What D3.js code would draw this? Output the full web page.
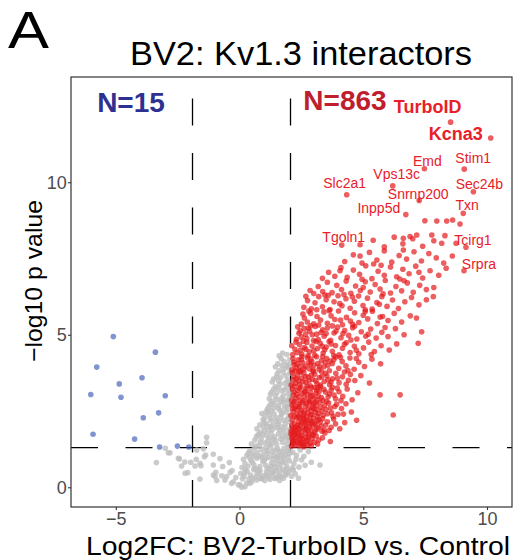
<!DOCTYPE html>
<html>
<head>
<meta charset="utf-8">
<script src="https://cdn.jsdelivr.net/npm/d3@7.9.0/dist/d3.min.js"></script>
<style>
  body { margin: 0; background: #fff; }
  svg { display: block; font-family: "Liberation Sans", Arial, sans-serif; }
</style>
</head>
<body>
<svg id="plot" width="515" height="560"></svg>
<script>
// axis ticks and cut-offs
const xTicks = [-5, 0, 5, 10];
const yTicks = [0, 5, 10];
const fcCut = [-1.9, 2.06];
const pCut = 1.3;
const nDown = 15;
const nUp = 863;

// [log2FC, -log10 p]
const downGenes = [
  [-5.10,4.94],[-5.77,3.94],[-3.40,4.43],[-3.94,3.59],[-4.86,3.39],[-6.01,3.04],[-4.79,2.95],
  [-3.00,3.00],[-3.27,2.44],[-3.89,2.28],[-5.92,1.74],[-4.24,1.58],[-3.23,1.32],[-2.51,1.35],[-2.05,1.32]
];

const nsGenes = [
  // left tail
  [-3.00,1.28],[-2.88,1.13],[-3.36,0.81],[-2.43,0.93],[-2.21,0.83],[-2.34,0.70],[-1.97,0.82],[-1.75,0.92],
  [-1.73,1.22],[-1.33,1.64],[-1.33,1.46],[-1.46,1.26],[-1.37,1.06],[-1.60,0.79],[-1.80,0.70],[-2.09,0.48],
  [-2.20,0.46],[-1.60,0.27],[-1.06,1.08],[-0.79,0.94],[-1.06,0.73],[-0.68,0.68],[-0.41,0.81],[-0.96,0.49],
  [-0.99,0.35],[-0.92,0.22],[-0.72,0.38],[-0.52,0.35],[-0.38,0.49],[-0.25,0.18],[0.02,0.08],[0.22,0.02],
  [0.42,0.13],[0.69,0.24],[0.83,0.30],[-2.81,1.13],[-2.47,0.95],[-1.42,1.00],[-1.56,0.71],[-1.06,0.40],
  [-0.59,0.24],[-0.32,0.13],[-0.05,0.08],[0.09,0.00],[0.29,0.13],[0.49,0.18],[0.90,0.30],[1.10,0.40],
  [1.23,0.26],[1.50,0.31],[1.70,0.35],[1.91,0.46],[1.37,0.51],
  // right arm
  [-0.15,0.32],[0.05,0.45],[0.18,0.36],[0.31,0.52],[0.44,0.40],[0.57,0.58],[0.70,0.44],[0.83,0.55],
  [0.96,0.38],[1.09,0.50],[1.22,0.60],[1.35,0.42],[1.48,0.55],[1.61,0.47],[1.74,0.59],[1.87,0.40],
  [2.00,0.52],[2.17,0.57],[2.38,0.30],[2.25,0.44],[0.12,0.28],[0.38,0.26],[0.64,0.33],[0.90,0.28],
  [1.16,0.34],[1.42,0.29],[1.62,0.22],[1.77,0.30],[-0.30,0.55],[0.24,0.60],
  [0.20,0.48],[0.50,0.30],[0.80,0.46],[1.02,0.22],[1.28,0.48],[1.58,0.38],[1.82,0.52],[2.10,0.36],
  [0.10,0.65],[0.22,0.78],[0.34,0.70],[0.46,0.88],[0.58,0.74],[0.70,0.95],[0.82,0.68],[0.94,0.84],
  [1.06,0.72],[1.18,0.98],[1.30,0.80],[1.42,0.66],[1.54,0.90],[1.66,0.76],[1.78,0.96],[1.90,0.70],
  [2.02,0.86],[2.14,0.64],[2.28,0.92],[2.51,0.90],[2.65,0.72],[2.90,0.82],[3.25,0.73],[0.40,0.98],
  [0.64,0.62],[0.88,0.99],[1.12,0.62],[1.36,0.93],[1.60,0.64],[1.84,0.83],[2.40,0.66],[0.16,0.92],
  [1.00,0.88],[1.48,0.78],[1.96,0.99],
  [0.52,0.82],[0.76,0.58],[1.04,0.95],[1.28,0.70],[1.52,0.98],[1.72,0.84],[1.94,0.60],[2.20,0.78],
  [0.30,1.05],[0.42,1.20],[0.54,1.10],[0.66,1.35],[0.78,1.02],[0.90,1.25],[1.02,1.45],[1.14,1.12],
  [1.26,1.32],[1.38,1.04],[1.50,1.40],[1.62,1.18],[1.74,1.48],[1.86,1.08],[1.98,1.30],[2.15,1.15],
  [2.30,1.05],[2.45,1.22],[2.78,1.17],[2.60,1.02],[0.48,1.42],[0.72,1.15],[0.96,1.08],[1.20,1.40],
  [1.44,1.22],[1.68,1.02],[1.92,1.42],[0.60,1.28],[0.84,1.48],[1.08,1.30],[1.32,1.16],[1.56,1.06],
  [1.80,1.28],[2.03,1.12],
  [0.36,1.12],[0.58,1.02],[0.80,1.38],[1.10,1.20],[1.30,1.44],[1.54,1.26],[1.76,1.14],[1.96,1.20],
  [0.62,1.55],[0.75,1.72],[0.88,1.60],[1.01,1.85],[1.14,1.52],[1.27,1.78],[1.40,1.66],[1.53,1.95],
  [1.66,1.58],[1.79,1.82],[1.92,1.70],[2.04,1.90],[0.70,1.92],[0.95,1.98],[1.20,1.62],[1.45,1.53],
  [1.70,1.98],[1.98,1.55],[0.82,1.80],[1.08,1.70],[1.34,1.90],[1.58,1.75],[1.86,1.62],[1.25,1.99],
  [1.74,1.68],[2.00,1.78],
  [0.68,1.66],[0.92,1.74],[1.16,1.86],[1.36,1.58],[1.62,1.88],[1.84,1.94],[2.02,1.62],
  [0.82,2.05],[0.95,2.22],[1.08,2.10],[1.21,2.38],[1.34,2.02],[1.47,2.28],[1.60,2.15],[1.73,2.45],
  [1.86,2.08],[1.99,2.32],[0.90,2.42],[1.15,2.48],[1.40,2.40],[1.65,2.30],[1.90,2.47],[1.02,2.30],
  [1.28,2.18],[1.54,2.06],[1.80,2.20],[2.05,2.14],[1.12,2.00],
  [0.98,2.14],[1.24,2.26],[1.48,2.16],[1.70,2.38],[1.94,2.24],
  [1.12,2.55],[1.25,2.72],[1.38,2.60],[1.51,2.88],[1.64,2.52],[1.77,2.78],[1.90,2.65],[2.03,2.95],
  [1.20,2.90],[1.45,2.98],[1.70,2.92],[1.95,2.56],[1.32,2.82],[1.58,2.68],[1.84,2.86],[2.00,2.72],
  [1.18,2.64],[1.06,2.46],[1.30,2.50],[1.56,2.58],[1.82,2.62],[1.98,2.84],[1.40,2.74],[1.66,2.82],
  [1.25,3.05],[1.38,3.22],[1.51,3.10],[1.64,3.38],[1.77,3.02],[1.90,3.28],[2.02,3.15],[1.32,3.45],
  [1.58,3.48],[1.84,3.42],[1.45,3.30],[1.70,3.18],[1.96,3.46],[2.04,3.35],
  [1.30,3.12],[1.56,3.26],[1.82,3.20],[1.98,3.06],
  [1.38,3.55],[1.52,3.72],[1.66,3.60],[1.80,3.88],[1.94,3.52],[2.04,3.75],[1.45,3.95],[1.72,3.98],
  [1.98,3.92],[1.60,3.82],[1.88,3.66],[1.50,3.62],[1.76,3.76],[1.92,3.98],
  [1.55,4.05],[1.68,4.22],[1.80,4.12],[1.92,4.35],[2.03,4.18],[1.60,4.31],[1.74,4.40],[1.98,4.02]
];

const upGenes = [
  [2.10,1.35],[2.18,1.42],[2.25,1.38],[2.33,1.51],[2.41,1.36],[2.12,1.60],[2.22,1.72],[2.30,1.64],
  [2.47,1.45],[2.55,1.58],[2.62,1.40],[2.70,1.52],[2.78,1.66],[2.16,1.49],[2.38,1.77],[2.52,1.70],
  [2.85,1.44],[2.93,1.59],[3.02,1.48],[3.10,1.68],[2.66,1.78],[2.44,1.57],[2.27,1.80],[2.08,1.75],
  [3.20,1.55],[3.35,1.62],[3.67,1.50],[2.98,1.74],[2.59,1.33],[2.74,1.39],[2.20,1.55],[2.36,1.46],
  [2.90,1.36],[3.15,1.42],[2.48,1.65],[2.80,1.74],[3.45,1.78],[2.14,1.68],[2.56,1.48],[2.69,1.62],
  [2.15,1.52],[2.35,1.70],[2.52,1.38],[2.77,1.55],[2.96,1.70],
  [2.09,1.85],[2.17,1.93],[2.26,1.88],[2.34,2.02],[2.43,1.91],[2.51,2.12],[2.60,1.96],[2.68,2.05],
  [2.77,1.86],[2.85,2.18],[2.94,1.99],[3.03,2.10],[3.12,1.90],[3.21,2.22],[3.30,2.01],[3.42,1.88],
  [3.55,2.15],[3.70,1.97],[3.88,2.08],[4.05,1.92],[2.13,2.20],[2.22,2.08],[2.31,2.27],[2.40,2.15],
  [2.48,1.83],[2.57,2.25],[2.65,1.89],[2.73,2.21],[2.82,2.00],[2.90,1.84],[2.99,2.27],[3.08,2.05],
  [3.17,1.95],[3.26,2.14],[3.36,2.25],[3.48,2.04],[3.62,1.86],[3.80,2.24],[4.25,2.12],[2.11,2.02],
  [2.19,1.81],[2.37,1.95],[2.45,2.28],[2.62,2.18],[2.71,1.93],[2.88,2.10],[3.05,1.82],[3.33,1.84],
  [4.73,2.20],[6.21,2.37],
  [2.24,1.97],[2.46,2.05],[2.66,2.12],[2.92,2.16],[3.14,2.20],
  [2.08,2.35],[2.16,2.48],[2.24,2.61],[2.33,2.40],[2.41,2.72],[2.50,2.53],[2.58,2.34],[2.67,2.66],
  [2.75,2.45],[2.84,2.77],[2.92,2.38],[3.01,2.58],[3.10,2.70],[3.19,2.42],[3.28,2.62],[3.38,2.36],
  [3.49,2.55],[3.60,2.76],[3.72,2.44],[3.85,2.65],[3.98,2.39],[4.12,2.58],[4.30,2.74],[4.52,2.47],
  [2.12,2.70],[2.21,2.33],[2.29,2.55],[2.38,2.31],[2.46,2.44],[2.55,2.78],[2.63,2.50],[2.72,2.31],
  [2.80,2.60],[2.89,2.52],[2.97,2.74],[3.06,2.46],[3.15,2.33],[3.24,2.79],[3.33,2.50],[3.43,2.68],
  [3.55,2.41],[3.67,2.60],[3.78,2.32],[3.92,2.72],[4.20,2.40],[2.19,2.76],[2.44,2.63],[2.70,2.75],
  [2.95,2.62],[3.12,2.55],
  [2.15,2.58],[2.36,2.65],[2.60,2.40],[2.86,2.36],[3.04,2.78],
  [2.10,2.85],[2.18,3.02],[2.27,2.92],[2.35,3.18],[2.44,2.83],[2.52,3.08],[2.61,2.96],[2.69,3.24],
  [2.78,2.88],[2.86,3.12],[2.95,3.00],[3.04,3.27],[3.13,2.86],[3.22,3.15],[3.31,2.94],[3.41,3.21],
  [3.52,2.82],[3.63,3.06],[3.75,3.28],[3.88,2.90],[4.02,3.13],[4.17,2.98],[4.35,3.22],[4.55,2.87],
  [4.78,3.10],[5.68,3.03],[6.49,3.03],[2.14,3.22],[2.23,2.81],[2.31,3.05],[2.40,2.97],[2.48,3.29],
  [2.57,2.84],[2.65,3.15],[2.74,3.04],[2.82,2.81],[2.91,3.26],[3.00,2.91],[3.09,3.09],[3.18,2.99],
  [3.27,3.30],[3.37,2.85],[3.47,3.12],[3.58,2.97],[3.70,3.18],[3.82,3.02],[3.95,3.25],[4.10,2.84],
  [2.20,3.12],[2.42,3.24],[2.62,3.12],[2.88,2.98],[3.12,3.18],
  [2.09,3.35],[2.17,3.52],[2.26,3.41],[2.34,3.66],[2.43,3.37],[2.51,3.58],[2.60,3.75],[2.68,3.44],
  [2.77,3.62],[2.86,3.33],[2.95,3.54],[3.04,3.71],[3.13,3.40],[3.22,3.60],[3.32,3.79],[3.42,3.47],
  [3.53,3.65],[3.64,3.36],[3.76,3.56],[3.89,3.74],[4.02,3.43],[4.16,3.62],[4.31,3.38],[4.48,3.70],
  [4.66,3.50],[4.90,3.66],[5.25,3.42],[2.13,3.76],[2.22,3.31],[2.30,3.55],[2.47,3.77],[2.56,3.46],
  [2.73,3.32],[2.90,3.68],[3.08,3.49],[3.27,3.35],[3.47,3.74],[3.70,3.45],[3.95,3.58],[4.24,3.78],
  [2.39,3.49],[2.81,3.50],[3.18,3.28],[3.58,3.52],[4.40,3.51],
  [2.19,3.62],[2.40,3.80],[2.66,3.62],[2.98,3.80],[3.32,3.62],
  [2.12,3.85],[2.20,4.02],[2.29,3.92],[2.38,4.18],[2.47,3.83],[2.56,4.08],[2.65,3.96],[2.74,4.25],
  [2.83,3.88],[2.92,4.12],[3.01,4.00],[3.11,4.28],[3.21,3.86],[3.31,4.15],[3.41,3.95],[3.52,4.22],
  [3.63,3.82],[3.75,4.06],[3.88,4.27],[4.01,3.90],[4.15,4.12],[4.30,3.98],[4.46,4.24],[4.63,3.87],
  [4.82,4.10],[5.05,3.96],[5.35,4.20],[5.70,4.05],[2.16,4.22],[2.25,3.81],[2.34,4.05],[2.52,4.29],
  [2.61,3.89],[2.79,4.08],[2.97,3.84],[3.16,4.06],[3.36,4.29],[3.57,3.99],[3.81,4.18],[4.08,4.26],
  [4.38,3.83],[4.72,4.22],[2.43,3.97],[2.88,4.20],[3.46,4.10],
  [2.20,4.10],[2.50,4.18],[2.86,4.02],[3.24,3.96],[3.66,4.14],
  [2.15,4.35],[2.24,4.52],[2.33,4.41],[2.42,4.68],[2.52,4.36],[2.62,4.58],[2.72,4.75],[2.82,4.44],
  [2.93,4.63],[3.04,4.33],[3.15,4.55],[3.26,4.72],[3.38,4.40],[3.50,4.60],[3.62,4.78],[3.75,4.46],
  [3.88,4.65],[4.02,4.34],[4.16,4.56],[4.31,4.74],[4.47,4.42],[4.64,4.62],[4.82,4.38],[5.01,4.57],
  [5.22,4.76],[5.45,4.45],[5.72,4.64],[6.05,4.50],[6.35,4.70],[7.22,4.72],[2.11,4.64],[2.47,4.50],
  [2.77,4.31],[3.09,4.78],[3.44,4.51],[3.81,4.32],[4.24,4.69],[4.72,4.49],[5.32,4.35],[2.58,4.79],
  [2.28,4.76],[2.68,4.52],[3.00,4.48],[3.34,4.62],[3.70,4.70],
  [2.30,4.85],[2.40,5.05],[2.50,4.93],[2.61,5.20],[2.72,4.88],[2.83,5.12],[2.94,5.00],[3.06,5.27],
  [3.18,4.84],[3.30,5.08],[3.42,4.95],[3.55,5.22],[3.68,4.82],[3.82,5.06],[3.96,5.25],[4.10,4.90],
  [4.25,5.14],[4.41,4.98],[4.57,5.23],[4.74,4.86],[4.92,5.10],[5.10,4.95],[5.30,5.19],[5.52,4.89],
  [5.75,5.08],[6.00,4.94],[6.30,5.20],[6.65,5.00],[7.36,5.10],[2.35,5.26],[2.67,5.02],[2.99,4.81],
  [3.36,5.16],[3.75,5.29],[4.18,5.04],[4.65,5.28],[5.20,5.02],[5.88,5.24],[2.88,5.29],[4.50,4.83],
  [2.45,5.12],[2.78,5.22],[3.12,5.02],[3.50,5.04],[3.90,5.12],
  [2.50,5.35],[2.62,5.55],[2.74,5.42],[2.87,5.70],[3.00,5.36],[3.13,5.60],[3.27,5.48],[3.41,5.75],
  [3.55,5.38],[3.70,5.62],[3.85,5.50],[4.00,5.78],[4.16,5.33],[4.32,5.57],[4.48,5.45],[4.65,5.72],
  [4.82,5.40],[5.00,5.64],[5.18,5.52],[5.37,5.77],[5.57,5.37],[5.78,5.60],[6.00,5.47],[6.25,5.70],
  [6.55,5.42],[6.90,5.62],[7.15,5.55],[2.80,5.78],[3.20,5.32],[3.62,5.79],[4.08,5.48],[4.57,5.34],
  [5.08,5.76],[5.68,5.58],[2.56,5.68],
  [2.60,5.90],[2.75,6.12],[2.90,5.85],[3.05,6.05],[3.20,6.25],[3.35,5.92],[3.50,6.15],[3.66,5.83],
  [3.82,6.08],[3.98,6.28],[4.14,5.95],[4.30,6.18],[4.47,5.87],[4.64,6.10],[4.81,6.27],[4.99,5.96],
  [5.17,6.20],[5.36,5.84],[5.55,6.06],[5.75,6.25],[5.96,5.93],[6.18,6.14],[6.42,5.86],[6.68,6.08],
  [6.95,6.22],[7.25,5.98],[7.55,6.15],[7.83,6.25],[2.68,6.26],[3.12,5.82],[3.58,6.29],[4.05,6.02],
  [4.56,6.24],[5.08,5.82],[5.65,6.00],
  [3.00,6.35],[3.18,6.58],[3.36,6.42],[3.55,6.72],[3.74,6.38],[3.93,6.62],[4.12,6.48],[4.31,6.76],
  [4.50,6.36],[4.69,6.60],[4.88,6.45],[5.08,6.74],[5.28,6.40],[5.48,6.65],[5.68,6.50],[5.89,6.78],
  [6.10,6.37],[6.32,6.58],[6.55,6.44],[6.78,6.70],[7.02,6.39],[7.28,6.62],[7.55,6.48],[7.85,6.55],
  [2.85,6.45],[3.45,6.30],[4.22,6.32],[5.00,6.55],[5.80,6.34],[6.65,6.77],
  [3.35,6.85],[3.60,7.05],[3.85,6.92],[4.10,7.20],[4.35,6.88],[4.60,7.12],[4.85,6.98],[5.10,7.26],
  [5.35,6.84],[5.60,7.08],[5.85,6.95],[6.10,7.22],[6.35,6.90],[6.60,7.15],[6.85,7.00],[7.12,7.25],
  [7.40,6.86],[7.70,7.10],[8.05,6.95],[8.35,7.18],[4.06,7.10],[4.95,6.82],[5.72,7.28],[6.48,6.83],
  [7.25,7.05],
  [4.25,7.40],[4.60,7.62],[4.95,7.35],[5.25,7.70],[5.55,7.45],[5.85,7.75],[6.15,7.38],[6.45,7.60],
  [6.75,7.48],[7.05,7.72],[7.35,7.42],[7.65,7.66],[7.95,7.52],[8.25,7.35],[8.60,7.58],[4.87,7.58],
  [5.42,7.32],[6.62,7.78],
  [4.87,7.95],[5.40,8.10],[5.85,7.88],[6.25,8.20],[6.60,7.98],[7.00,8.15],[7.40,7.90],[7.85,8.08],
  [8.30,8.25],[8.75,8.00],
  [7.49,8.74],[7.97,8.73],[8.37,8.73],[8.61,8.76],[8.91,8.63],[7.77,8.27],[8.17,8.00],[6.62,8.16],
  [6.89,8.22],[7.16,8.27]
];

// labelled interactors
const labelGenes = ['TurboID','Kcna3','Stim1','Emd','Vps13c','Sec24b','Slc2a1','Snrnp200','Txn','Inpp5d','Tgoln1','Tcirg1','Srpra'];
const labelFC = [8.53, 10.15, 9.08, 7.47, 6.19, 9.45, 4.33, 7.26, 9.04, 6.72, 4.13, 9.15, 9.07];
const labelP = [11.97, 11.45, 10.43, 10.44, 9.88, 9.69, 9.59, 9.40, 8.98, 8.94, 7.94, 7.87, 7.10];
const boldGenes = ['TurboID', 'Kcna3'];

// where each label sits relative to its point (px)
const labelNudge = [[-23,-9],[-35,2],[9,-6],[3,-3],[4,-7],[6,-3],[-2,-7],[-1,-2],[4,-3],[-27,-2],[2,-3],[7,-2],[15,-2]];

const svg = d3.select('#plot');
const margin = { left: 71, right: 512, top: 77, bottom: 507 };

const x = d3.scaleLinear().domain([-6.81, 11.01]).range([margin.left, margin.right]);
const y = d3.scaleLinear().domain([-0.646, 13.45]).range([margin.bottom, margin.top]);

// threshold lines
const dash = '27,27.5';
fcCut.forEach((v) => {
  svg.append('line')
    .attr('x1', x(v)).attr('x2', x(v))
    .attr('y1', margin.bottom).attr('y2', margin.top)
    .attr('stroke', '#000').attr('stroke-width', 1.3)
    .attr('stroke-dasharray', dash);
});
svg.append('line')
  .attr('x1', margin.left).attr('x2', margin.right)
  .attr('y1', y(pCut)).attr('y2', y(pCut))
  .attr('stroke', '#000').attr('stroke-width', 1.3)
  .attr('stroke-dasharray', dash);

// points
function dots(data, fill, opacity) {
  svg.append('g')
    .selectAll('circle')
    .data(data)
    .enter()
    .append('circle')
    .attr('cx', (d) => x(d[0]))
    .attr('cy', (d) => y(d[1]))
    .attr('r', 2.8)
    .attr('fill', fill)
    .attr('fill-opacity', opacity);
}
dots(nsGenes, '#bebebe', 0.8);
dots(downGenes, '#3e5bb5', 0.65);
dots(upGenes, '#e41a1c', 0.7);
dots(labelGenes.map((g, i) => [labelFC[i], labelP[i]]), '#e41a1c', 0.7);

// gene labels
labelGenes.forEach((g, i) => {
  const bold = boldGenes.includes(g);
  svg.append('text')
    .attr('x', x(labelFC[i]) + labelNudge[i][0])
    .attr('y', y(labelP[i]) + labelNudge[i][1])
    .attr('text-anchor', 'middle')
    .attr('font-size', bold ? 18 : 14)
    .attr('font-weight', bold ? 'bold' : 'normal')
    .attr('fill', '#e8202a')
    .text(g);
});

// counts
svg.append('text')
  .attr('x', 131).attr('y', 111.5)
  .attr('text-anchor', 'middle')
  .attr('font-size', 28).attr('font-weight', 'bold')
  .attr('fill', '#2e3192')
  .text(`N=${nDown}`);
svg.append('text')
  .attr('x', 345).attr('y', 109.5)
  .attr('text-anchor', 'middle')
  .attr('font-size', 28).attr('font-weight', 'bold')
  .attr('fill', '#be1e2d')
  .text(`N=${nUp}`);

// axes
const xAxis = svg.append('g')
  .attr('transform', `translate(0,${margin.bottom})`)
  .call(d3.axisBottom(x).tickValues(xTicks).tickSize(3).tickPadding(2.5));
const yAxis = svg.append('g')
  .attr('transform', `translate(${margin.left},0)`)
  .call(d3.axisLeft(y).tickValues(yTicks).tickSize(3).tickPadding(1.3));
[xAxis, yAxis].forEach((a) => {
  a.select('.domain').remove();
  a.selectAll('line').attr('stroke', '#333').attr('stroke-width', 1.1);
  a.selectAll('text')
    .attr('font-size', 18)
    .attr('font-family', '"Liberation Sans", Arial, sans-serif')
    .attr('fill', '#4d4d4d');
});

// panel border
svg.append('rect')
  .attr('x', margin.left).attr('y', margin.top)
  .attr('width', margin.right - margin.left)
  .attr('height', margin.bottom - margin.top)
  .attr('fill', 'none')
  .attr('stroke', '#333').attr('stroke-width', 1.2);

// titles
svg.append('text')
  .attr('x', 8).attr('y', 48)
  .attr('font-size', 52)
  .attr('textLength', 41).attr('lengthAdjust', 'spacingAndGlyphs')
  .text('A');
svg.append('text')
  .attr('x', 301).attr('y', 64.5)
  .attr('text-anchor', 'middle')
  .attr('font-size', 33)
  .attr('textLength', 342).attr('lengthAdjust', 'spacingAndGlyphs')
  .text('BV2: Kv1.3 interactors');
svg.append('text')
  .attr('x', 298).attr('y', 554.5)
  .attr('text-anchor', 'middle')
  .attr('font-size', 26.5)
  .attr('textLength', 424).attr('lengthAdjust', 'spacingAndGlyphs')
  .text('Log2FC: BV2-TurboID vs. Control');
svg.append('text')
  .attr('transform', 'translate(42,281) rotate(-90)')
  .attr('text-anchor', 'middle')
  .attr('font-size', 24)
  .attr('textLength', 162).attr('lengthAdjust', 'spacingAndGlyphs')
  .text('\u2212log10 p value');
</script>
</body>
</html>
